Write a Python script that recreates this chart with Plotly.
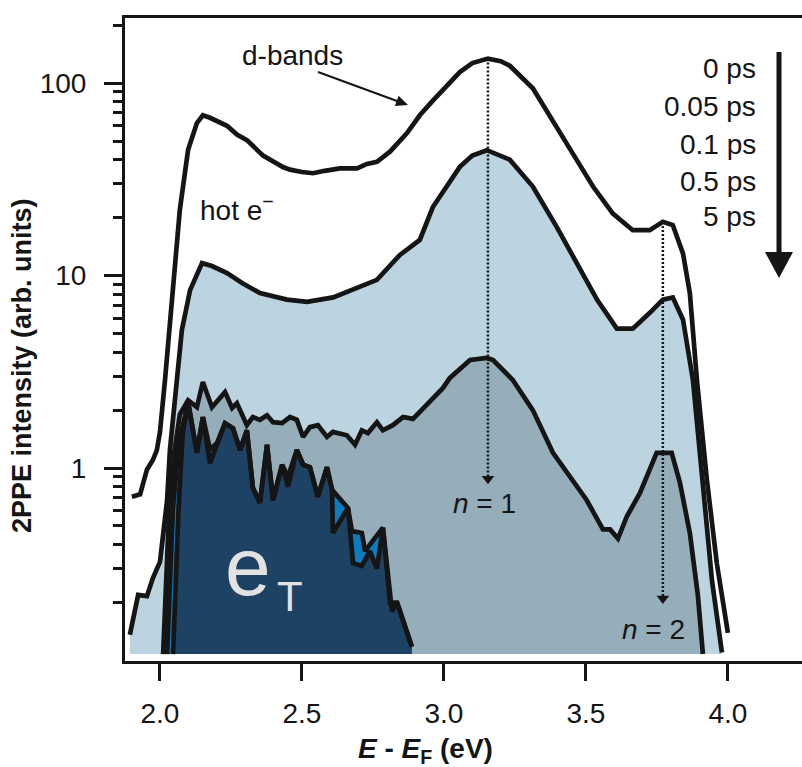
import math
import plotly.graph_objects as go

# ---- 2PPE spectra at successive pump-probe delays (log intensity vs E - E_F) ----
e_0ps = [1.901, 1.930, 1.954, 1.975, 1.989, 2.000, 2.018, 2.035, 2.053, 2.070, 2.099,
         2.130, 2.151, 2.176, 2.236, 2.271, 2.306, 2.363, 2.433, 2.458, 2.500, 2.539,
         2.580, 2.634, 2.694, 2.729, 2.764, 2.810, 2.870, 2.915, 2.961, 3.021, 3.056,
         3.100, 3.155, 3.200, 3.232, 3.313, 3.384, 3.454, 3.525, 3.595, 3.665, 3.725,
         3.771, 3.806, 3.842, 3.866, 3.891, 3.926, 3.961, 4.000]
i_0ps = [0.71, 0.73, 0.98, 1.10, 1.24, 1.54, 2.9, 5.5, 10.5, 22, 45,
         62, 68, 66, 60, 54, 50.5, 42, 36.6, 35.5, 34.5, 34,
         35, 36, 36, 38, 39, 44, 55, 68, 81, 101, 114,
         127, 134, 130, 123, 94, 64, 43, 29, 21, 17.2, 17.2,
         19, 18.3, 13, 8.1, 2.86, 0.87, 0.32, 0.139]

e_005ps = [1.894, 1.923, 1.954, 1.975, 2.000, 2.025, 2.035, 2.053, 2.077, 2.106, 2.148,
           2.183, 2.236, 2.292, 2.352, 2.447, 2.518, 2.610, 2.704, 2.764, 2.845, 2.915,
           2.961, 3.021, 3.056, 3.100, 3.151, 3.232, 3.313, 3.398, 3.479, 3.539, 3.609,
           3.665, 3.725, 3.771, 3.806, 3.842, 3.877, 3.912, 3.944, 3.979]
i_005ps = [0.136, 0.219, 0.216, 0.268, 0.325, 0.68, 1.24, 2.34, 5.2, 8.4, 11.6,
           11.2, 10.3, 9.1, 8.1, 7.5, 7.3, 7.7, 8.7, 9.5, 12.8, 15.3,
           22.7, 31, 36.7, 42, 44.8, 40, 29, 17.8, 11, 7.5, 5.3,
           5.3, 6.4, 7.5, 7.7, 5.9, 2.86, 0.87, 0.26, 0.11]

e_01ps = [2.011, 2.030, 2.050, 2.070, 2.099, 2.130, 2.151, 2.183, 2.229, 2.254, 2.271,
          2.306, 2.327, 2.352, 2.377, 2.398, 2.430, 2.458, 2.482, 2.504, 2.528, 2.556,
          2.588, 2.609, 2.658, 2.687, 2.711, 2.732, 2.764, 2.785, 2.820, 2.856, 2.891,
          2.940, 2.996, 3.021, 3.092, 3.151, 3.173, 3.243, 3.313, 3.384, 3.454, 3.503,
          3.560, 3.585, 3.613, 3.644, 3.690, 3.749, 3.802, 3.831, 3.866, 3.894, 3.912]
i_01ps = [0.108, 0.5, 1.2, 1.9, 2.25, 2.07, 2.8, 2.07, 2.48, 2.05, 2.17,
          1.67, 1.84, 1.78, 1.88, 1.73, 1.71, 1.84, 1.78, 1.45, 1.63, 1.67,
          1.45, 1.54, 1.48, 1.32, 1.57, 1.52, 1.73, 1.57, 1.67, 1.84, 1.80,
          2.12, 2.6, 2.94, 3.64, 3.73, 3.64, 2.86, 2.0, 1.2, 0.87, 0.68,
          0.48, 0.48, 0.43, 0.56, 0.74, 1.2, 1.2, 0.84, 0.46, 0.22, 0.108]

e_05ps = [2.025, 2.045, 2.065, 2.085, 2.099, 2.130, 2.151, 2.176, 2.201, 2.229, 2.257,
          2.282, 2.306, 2.327, 2.352, 2.377, 2.398, 2.430, 2.451, 2.482, 2.504, 2.528,
          2.556, 2.588, 2.606, 2.662, 2.676, 2.711, 2.722, 2.750, 2.785, 2.810, 2.835,
          2.887]
i_05ps = [0.108, 0.6, 1.3, 1.8, 2.2, 1.2, 1.84, 1.25, 1.35, 1.71, 1.61,
          1.24, 1.57, 0.79, 0.66, 1.32, 0.68, 1.04, 0.9, 1.24, 1.04, 1.01,
          0.71, 1.01, 0.77, 0.62, 0.47, 0.46, 0.37, 0.42, 0.49, 0.2, 0.2,
          0.118]

e_5ps = [2.046, 2.065, 2.080, 2.099, 2.130, 2.151, 2.176, 2.201, 2.229, 2.257, 2.282,
         2.306, 2.327, 2.352, 2.377, 2.398, 2.430, 2.451, 2.482, 2.504, 2.528, 2.556,
         2.588, 2.606, 2.609, 2.662, 2.680, 2.711, 2.739, 2.764, 2.785, 2.817, 2.835,
         2.887]
i_5ps = [0.108, 0.6, 1.5, 2.2, 1.2, 1.84, 1.06, 1.35, 1.71, 1.61, 1.24,
         1.57, 0.79, 0.66, 1.32, 0.68, 1.04, 0.8, 1.24, 1.04, 1.01, 0.71,
         1.01, 0.77, 0.46, 0.62, 0.32, 0.31, 0.37, 0.30, 0.49, 0.18, 0.2,
         0.118]

delay_labels = ["0 ps", "0.05 ps", "0.1 ps", "0.5 ps", "5 ps"]
x_tick_vals = [2.0, 2.5, 3.0, 3.5, 4.0]
x_tick_text = ["2.0", "2.5", "3.0", "3.5", "4.0"]
y_tick_vals = [1, 10, 100]
y_tick_text = ["1", "10", "100"]
y_minor_vals = [m * 10.0 ** k for k in (-1, 0, 1, 2) for m in range(2, 10)]

# arrow-tip intensities for the n = 1 and n = 2 image-potential states
n1_tip, n2_tip = 0.88, 0.21
fill_floor = 0.108

FONT = "Liberation Sans, Arial, sans-serif"
INK = "#151515"
fill_colors = [None, "#BCD4E0", "#96ADBA", "#0B7CBF", "#1E4263"]

spectra = [(e_0ps, i_0ps), (e_005ps, i_005ps), (e_01ps, i_01ps),
           (e_05ps, i_05ps), (e_5ps, i_5ps)]

fig = go.Figure()

# filled areas under each spectrum, down to a common floor
for (ex, iy), col in zip(spectra, fill_colors):
    if col is None:
        continue
    fig.add_trace(go.Scatter(
        x=[ex[0]] + ex + [ex[-1]], y=[fill_floor] + iy + [fill_floor],
        fill="toself", fillcolor=col, mode="lines", line=dict(width=0),
        hoverinfo="skip", showlegend=False))

# spectrum outlines
for (ex, iy), name in zip(spectra, delay_labels):
    fig.add_trace(go.Scatter(x=ex, y=iy, mode="lines", name=name,
                             line=dict(color=INK, width=4.7), showlegend=False))

# dotted guides from the 0 ps peaks down to the n = 1 and n = 2 states
k1 = i_0ps.index(max(i_0ps))
k2 = e_0ps.index(3.771)
for k, tip in ((k1, n1_tip), (k2, n2_tip)):
    fig.add_trace(go.Scatter(x=[e_0ps[k], e_0ps[k]], y=[i_0ps[k], tip], mode="lines",
                             line=dict(color=INK, width=2.5, dash="2px,2px"),
                             hoverinfo="skip", showlegend=False))
    fig.add_trace(go.Scatter(x=[e_0ps[k]], y=[tip], mode="markers",
                             marker=dict(symbol="triangle-down", size=11, color=INK),
                             hoverinfo="skip", showlegend=False))

# plot-area geometry in pixels, used to place labels
PL, PT, PW, PH = 125, 18, 677, 643


def paper(xp, yp):
    return (xp - PL) / PW, (PT + PH - yp) / PH


annotations = []


def label(text, xp, yp, size=28, anchor="center", color=INK, angle=0):
    x, y = paper(xp, yp)
    annotations.append(dict(text=text, x=x, y=y, xref="paper", yref="paper",
                            xanchor=anchor, yanchor="middle", showarrow=False,
                            textangle=angle, font=dict(family=FONT, size=size, color=color)))


label("d-bands", 292, 55)
label("hot e<sup>−</sup>", 237, 208)
for lbl, yp in zip(delay_labels, [68, 106, 144, 181, 216]):
    label(lbl, 758, yp, anchor="right")
label("<i>n</i> = 1", 484, 503)
label("<i>n</i> = 2", 653, 629)
label("e", 248, 566, size=82, color="#E2E2E2")
label("T", 290, 596, size=42, color="#E2E2E2")
label("<b><i>E</i> - <i>E</i><sub>F</sub> (eV)</b>", 425, 750, size=28)
label("<b>2PPE intensity (arb. units)</b>", 22, 366, size=27, angle=-90)


def arrow_shapes(p0, p1, width, head_len, head_half):
    """Straight arrow from p0 to p1 (pixel positions) drawn as a line plus a filled head."""
    dx, dy = p1[0] - p0[0], p1[1] - p0[1]
    n = math.hypot(dx, dy)
    ux, uy = dx / n, dy / n
    bx, by = p1[0] - head_len * ux, p1[1] - head_len * uy
    px_, py_ = -uy, ux
    a = paper(*p0)
    b = paper(bx + ux, by + uy)
    t = paper(*p1)
    l = paper(bx + head_half * px_, by + head_half * py_)
    r = paper(bx - head_half * px_, by - head_half * py_)
    return [
        dict(type="line", xref="paper", yref="paper", x0=a[0], y0=a[1], x1=b[0], y1=b[1],
             line=dict(color=INK, width=width)),
        dict(type="path", xref="paper", yref="paper",
             path=f"M {l[0]} {l[1]} L {r[0]} {r[1]} L {t[0]} {t[1]} Z",
             fillcolor=INK, line=dict(width=0)),
    ]


# arrow pointing to the d-band shoulder, and the delay-direction arrow
shapes = arrow_shapes((318, 72), (408, 105), 2, 12, 5.5)
shapes += arrow_shapes((779, 52), (779, 278), 5, 26, 14)

fig.update_layout(
    width=802, height=767,
    margin=dict(l=PL, r=0, t=PT, b=767 - PT - PH),
    paper_bgcolor="white", plot_bgcolor="white",
    font=dict(family=FONT, size=28, color=INK),
    annotations=annotations, shapes=shapes,
    xaxis=dict(range=[1.8768, 4.261], showline=True, linewidth=3, linecolor=INK,
               mirror=True, ticks="outside", ticklen=17, tickwidth=3, tickcolor=INK,
               tickvals=x_tick_vals, ticktext=x_tick_text, showgrid=False,
               zeroline=False, tickfont=dict(size=28), ticklabelstandoff=8),
    yaxis=dict(type="log", range=[-1.0026, 2.338], showline=True, linewidth=3,
               linecolor=INK, ticks="outside", ticklen=18, tickwidth=3, tickcolor=INK,
               tickvals=y_tick_vals, ticktext=y_tick_text, showgrid=False,
               zeroline=False, tickfont=dict(size=28), ticklabelstandoff=12,
               minor=dict(tickvals=y_minor_vals, ticks="outside", ticklen=9,
                          tickwidth=2.5, tickcolor=INK, showgrid=False)),
)

fig.write_html("out.html")
